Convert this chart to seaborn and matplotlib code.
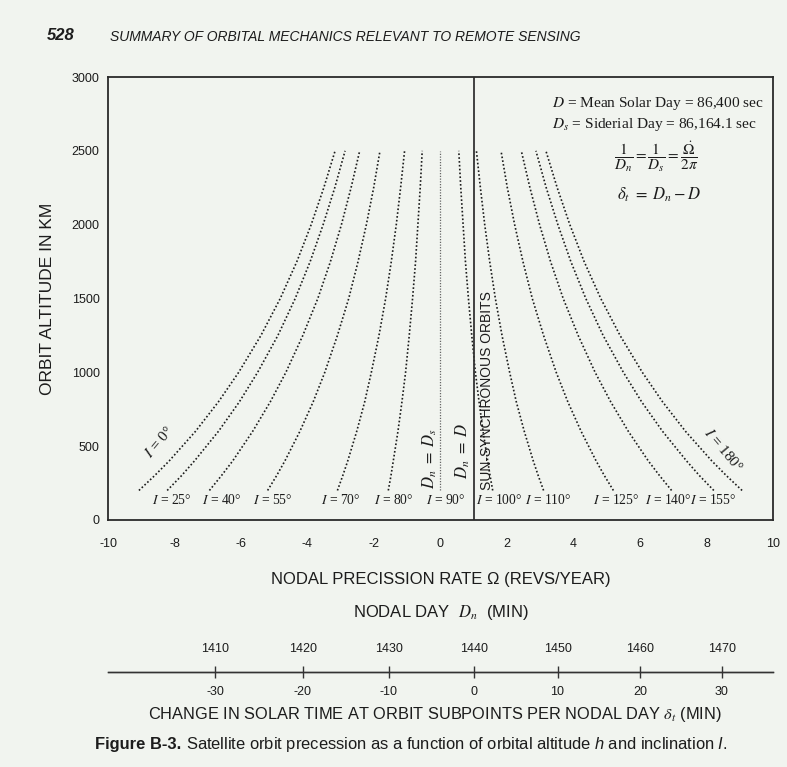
import numpy as np
import pandas as pd
import matplotlib
matplotlib.use("Agg")
import matplotlib.pyplot as plt
import seaborn as sns

# ------------------------------------------------------------------
# Data
# ------------------------------------------------------------------
altitude_km = [200, 300, 400, 600, 800, 1000, 1250, 1500, 1750, 2000, 2250, 2500]

omega_i0 = [-9.07, -8.60, -8.16, -7.37, -6.68, -6.07, -5.40, -4.82, -4.32, -3.89, -3.51, -3.17]
omega_i25 = [-8.22, -7.79, -7.40, -6.68, -6.05, -5.50, -4.89, -4.37, -3.92, -3.53, -3.18, -2.87]
omega_i40 = [-6.95, -6.59, -6.25, -5.65, -5.12, -4.65, -4.14, -3.69, -3.31, -2.98, -2.69, -2.43]
omega_i55 = [-5.20, -4.93, -4.68, -4.23, -3.83, -3.48, -3.10, -2.76, -2.48, -2.23, -2.01, -1.82]
omega_i70 = [-3.10, -2.94, -2.79, -2.52, -2.28, -2.08, -1.85, -1.65, -1.48, -1.33, -1.20, -1.08]
omega_i80 = [-1.57, -1.49, -1.42, -1.28, -1.16, -1.05, -0.94, -0.84, -0.75, -0.68, -0.61, -0.55]
omega_i90 = [0.0, 0.0, 0.0, 0.0, 0.0, 0.0, 0.0, 0.0, 0.0, 0.0, 0.0, 0.0]
omega_i100 = [1.57, 1.49, 1.42, 1.28, 1.16, 1.05, 0.94, 0.84, 0.75, 0.68, 0.61, 0.55]
omega_i110 = [3.10, 2.94, 2.79, 2.52, 2.28, 2.08, 1.85, 1.65, 1.48, 1.33, 1.20, 1.08]
omega_i125 = [5.20, 4.93, 4.68, 4.23, 3.83, 3.48, 3.10, 2.76, 2.48, 2.23, 2.01, 1.82]
omega_i140 = [6.95, 6.59, 6.25, 5.65, 5.12, 4.65, 4.14, 3.69, 3.31, 2.98, 2.69, 2.43]
omega_i155 = [8.22, 7.79, 7.40, 6.68, 6.05, 5.50, 4.89, 4.37, 3.92, 3.53, 3.18, 2.87]
omega_i180 = [9.07, 8.60, 8.16, 7.37, 6.68, 6.07, 5.40, 4.82, 4.32, 3.89, 3.51, 3.17]

inclinations = [0, 25, 40, 55, 70, 80, 90, 100, 110, 125, 140, 155, 180]
omega_series = [omega_i0, omega_i25, omega_i40, omega_i55, omega_i70, omega_i80, omega_i90,
                omega_i100, omega_i110, omega_i125, omega_i140, omega_i155, omega_i180]

sun_sync_omega = 1.0            # revs / year  (D_n = D)
x_ticks = [-10, -8, -6, -4, -2, 0, 2, 4, 6, 8, 10]
y_ticks = [0, 500, 1000, 1500, 2000, 2500, 3000]
nodal_day_ticks = [1410, 1420, 1430, 1440, 1450, 1460, 1470]
delta_t_ticks = [-30, -20, -10, 0, 10, 20, 30]

# day lengths (minutes) for the secondary scales
D_SOLAR_MIN = 86400.0 / 60.0
D_SIDEREAL_MIN = 86164.1 / 60.0
MIN_PER_YEAR = 525960.0

records = []
for inc, om in zip(inclinations, omega_series):
    for h, w in zip(altitude_km, om):
        records.append({"inclination": inc, "omega": w, "altitude": h})
df = pd.DataFrame(records)

# layout: horizontal shift of each bottom label relative to its curve end
label_shift = {25: 0.15, 40: 0.38, 55: 0.17, 70: 0.09, 80: 0.15, 90: 0.15,
               100: 0.18, 110: 0.15, 125: 0.07, 140: -0.11, 155: -0.03}

# ------------------------------------------------------------------
# Styling
# ------------------------------------------------------------------
BG = "#f1f4ef"
INK = "#1c1c1c"
SANS = "Liberation Sans"
SERIF = "Liberation Serif"
DEG = "\u00b0"

sns.set_theme(style="white")
plt.rcParams["font.family"] = [SANS, "DejaVu Sans"]
plt.rcParams["mathtext.fontset"] = "custom"
plt.rcParams["mathtext.rm"] = SANS
plt.rcParams["mathtext.it"] = SANS + ":italic"
plt.rcParams["mathtext.bf"] = SANS + ":bold"
plt.rcParams["text.color"] = INK
plt.rcParams["axes.labelcolor"] = INK
plt.rcParams["xtick.color"] = INK
plt.rcParams["ytick.color"] = INK

W, H = 787, 767
fig = plt.figure(figsize=(W / 100, H / 100), dpi=100, facecolor=BG)


def fx(px):
    return px / W


def fy(py):
    return 1 - py / H


ax_l, ax_r, ax_t, ax_b = 108, 773, 77, 520
ax = fig.add_axes([fx(ax_l), fy(ax_b), fx(ax_r - ax_l), (ax_b - ax_t) / H])
ax.set_facecolor(BG)

for inc in inclinations:
    sub = df[df["inclination"] == inc]
    if inc == 90:
        sns.lineplot(data=sub, x="omega", y="altitude", ax=ax, sort=False, estimator=None,
                     color="#666666", lw=0.9, linestyle=(0, (1, 1.2)))
    else:
        sns.lineplot(data=sub, x="omega", y="altitude", ax=ax, sort=False, estimator=None,
                     color=INK, lw=1.2, linestyle=(0, (1, 1.3)))

ax.axvline(sun_sync_omega, color="#333333", lw=1.3)

ax.set_xlim(-10, 10)
ax.set_ylim(0, 3000)
ax.set_xticks(x_ticks)
ax.set_xticklabels([str(t) for t in x_ticks])
ax.set_yticks(y_ticks)
ax.set_yticklabels([str(t) for t in y_ticks])
ax.tick_params(axis="both", length=0, labelsize=9)
ax.tick_params(axis="x", pad=13)
ax.tick_params(axis="y", pad=6)
for sp in ax.spines.values():
    sp.set_visible(True)
    sp.set_color("#2a2a2a")
    sp.set_linewidth(1.3)

ax.set_xlabel("NODAL PRECISSION RATE \u03a9 (REVS/YEAR)", fontsize=12, labelpad=16)
ax.set_ylabel("ORBIT ALTITUDE IN KM", fontsize=12.5, labelpad=12)

# ---- inclination labels ----
label_alt = 135
for inc, om in zip(inclinations, omega_series):
    if inc in (0, 180):
        continue
    ax.text(om[0] + label_shift[inc], label_alt, "$I$ = " + str(inc) + DEG,
            ha="center", va="center", fontsize=9.8, family=SERIF, math_fontfamily="stix")
ax.text(-8.45, 525, "$I$ = 0" + DEG, ha="center", va="center", rotation=50,
        rotation_mode="anchor", fontsize=11, family=SERIF, math_fontfamily="stix")
ax.text(8.50, 474, "$I$ = 180" + DEG, ha="center", va="center", rotation=-50,
        rotation_mode="anchor", fontsize=11, family=SERIF, math_fontfamily="stix")

ax.text(-0.33, 420, r"$D_n\ =\ D_s$", rotation=90, ha="center", va="center",
        fontsize=12, family=SERIF, math_fontfamily="stix")
ax.text(0.68, 470, r"$D_n\ =\ D$", rotation=90, ha="center", va="center",
        fontsize=12, family=SERIF, math_fontfamily="stix")
ax.text(1.40, 205, "SUN-SYNCHRONOUS ORBITS", rotation=90, ha="center", va="bottom",
        fontsize=10, family=SANS)

# ---- definitions block ----
ax.text(3.36, 2823, r"$D$ = Mean Solar Day = 86,400 sec", ha="left", va="center",
        fontsize=11.1, family=SERIF, math_fontfamily="stix")
ax.text(3.36, 2681, r"$D_s$ = Siderial Day = 86,164.1 sec", ha="left", va="center",
        fontsize=11.1, family=SERIF, math_fontfamily="stix")
ax.text(6.48, 2458, r"$\dfrac{1}{D_n} = \dfrac{1}{D_s} = \dfrac{\dot{\Omega}}{2\pi}$",
        ha="center", va="center", fontsize=11, family=SERIF, math_fontfamily="stix")
ax.text(6.57, 2200, r"$\delta_t\ =\ D_n - D$", ha="center", va="center",
        fontsize=12, family=SERIF, math_fontfamily="stix")


# ---- secondary scales (nodal day / change in solar time) ----
def omega_to_dn(w):
    w = np.asarray(w, dtype=float)
    return 1.0 / (1.0 / D_SIDEREAL_MIN - w / MIN_PER_YEAR)


def dn_to_omega(d):
    d = np.asarray(d, dtype=float)
    return (1.0 / D_SIDEREAL_MIN - 1.0 / d) * MIN_PER_YEAR


def omega_to_dt(w):
    return omega_to_dn(w) - D_SOLAR_MIN


def dt_to_omega(t):
    return dn_to_omega(np.asarray(t, dtype=float) + D_SOLAR_MIN)


sec_loc = (ax_b - 672) / (ax_b - ax_t)
sec_dn = ax.secondary_xaxis(sec_loc, functions=(omega_to_dn, dn_to_omega))
sec_dn.set_xticks(nodal_day_ticks)
sec_dn.set_xticklabels([str(t) for t in nodal_day_ticks])
sec_dn.xaxis.set_ticks_position("top")
sec_dn.tick_params(axis="x", direction="inout", length=8, width=1, color="#333333",
                   labelsize=9, pad=8, top=True, bottom=False, labeltop=True, labelbottom=False)

sec_dt = ax.secondary_xaxis(sec_loc, functions=(omega_to_dt, dt_to_omega))
sec_dt.set_xticks(delta_t_ticks)
sec_dt.set_xticklabels([str(t) for t in delta_t_ticks])
sec_dt.tick_params(axis="x", direction="inout", length=0, labelsize=9, pad=10,
                   bottom=True, top=False, labelbottom=True, labeltop=False)
for s in (sec_dn, sec_dt):
    for sp in s.spines.values():
        sp.set_color("#333333")
        sp.set_linewidth(1.0)

fig.text(fx(441), fy(613), r"NODAL DAY  $D_n$  (MIN)", ha="center", va="center",
         fontsize=12, math_fontfamily="stix")
fig.text(fx(435), fy(714),
         r"CHANGE IN SOLAR TIME AT ORBIT SUBPOINTS PER NODAL DAY $\delta_t$ (MIN)",
         ha="center", va="center", fontsize=11.8, math_fontfamily="stix")

# ---- page header and caption ----
fig.text(fx(47), fy(36), "528", ha="left", va="center", fontsize=12,
         fontweight="bold", fontstyle="italic")
fig.text(fx(110), fy(37), "SUMMARY OF ORBITAL MECHANICS RELEVANT TO REMOTE SENSING",
         ha="left", va="center", fontsize=10, fontstyle="italic")

cap1 = fig.text(fx(95), fy(745), "Figure B-3.", ha="left", va="center", fontsize=11.9,
                fontweight="bold")
renderer = fig.canvas.get_renderer()
bb = cap1.get_window_extent(renderer=renderer)
fig.text(bb.x1 / fig.bbox.width + fx(5), fy(745),
         r"Satellite orbit precession as a function of orbital altitude $h$ and inclination $I$.",
         ha="left", va="center", fontsize=11.9)

fig.savefig("out.png", dpi=100, facecolor=BG)
